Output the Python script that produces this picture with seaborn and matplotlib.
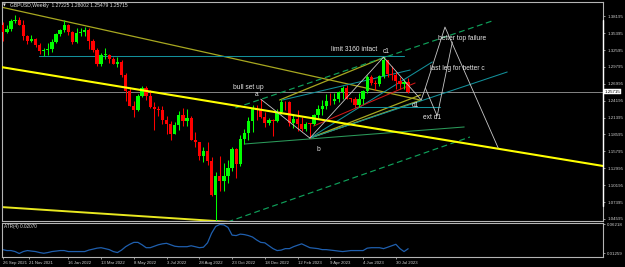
import matplotlib
matplotlib.use("Agg")
import matplotlib.pyplot as plt
import matplotlib.transforms as mtransforms
import numpy as np
import pandas as pd
import seaborn as sns

# ---------------- data (GBPUSD weekly, 26 Sep 2021 .. 20 Aug 2023) ----------------
opens = [1.3680, 1.3557, 1.3615, 1.3745, 1.3750, 1.3680, 1.3497, 1.3415, 1.3443, 1.3337,
         1.3235, 1.3265, 1.3270, 1.3400, 1.3533, 1.3590, 1.3675, 1.3555, 1.3395, 1.3535,
         1.3560, 1.3590, 1.3410, 1.3255, 1.3035, 1.3180, 1.3185, 1.3115, 1.3030, 1.3060,
         1.2840, 1.2575, 1.2335, 1.2260, 1.2490, 1.2625, 1.2490, 1.2310, 1.2280, 1.2265,
         1.2095, 1.2040, 1.1870, 1.2010, 1.2175, 1.2075, 1.2140, 1.1765, 1.1730, 1.1510,
         1.1585, 1.1415, 1.0855, 1.1165, 1.1090, 1.1175, 1.1300, 1.1615, 1.1375, 1.1790,
         1.1890, 1.2090, 1.2285, 1.2260, 1.2145, 1.2050, 1.2095, 1.2090, 1.2225, 1.2395,
         1.2390, 1.2050, 1.2120, 1.2030, 1.1945, 1.2040, 1.2030, 1.2175, 1.2290, 1.2335,
         1.2415, 1.2410, 1.2440, 1.2565, 1.2635, 1.2450, 1.2445, 1.2345, 1.2450, 1.2575,
         1.2820, 1.2720, 1.2695, 1.2835, 1.3095, 1.2855, 1.2850, 1.2745, 1.2695, 1.27225]
highs = [1.3720, 1.3675, 1.3770, 1.3835, 1.3810, 1.3750, 1.3510, 1.3515, 1.3460, 1.3370,
         1.3290, 1.3375, 1.3440, 1.3545, 1.3600, 1.3750, 1.3690, 1.3570, 1.3630, 1.3630,
         1.3645, 1.3630, 1.3440, 1.3300, 1.3215, 1.3300, 1.3200, 1.3150, 1.3150, 1.3090,
         1.2880, 1.2640, 1.2410, 1.2525, 1.2665, 1.2665, 1.2600, 1.2405, 1.2325, 1.2330,
         1.2165, 1.2085, 1.2065, 1.2245, 1.2295, 1.2275, 1.2170, 1.1900, 1.1740, 1.1650,
         1.1740, 1.1480, 1.1235, 1.1495, 1.1380, 1.1440, 1.1645, 1.1640, 1.1855, 1.1955,
         1.2150, 1.2345, 1.2345, 1.2445, 1.2240, 1.2125, 1.2110, 1.2290, 1.2445, 1.2420,
         1.2420, 1.2195, 1.2270, 1.2150, 1.2070, 1.2050, 1.2205, 1.2345, 1.2425, 1.2525,
         1.2545, 1.2545, 1.2585, 1.2670, 1.2680, 1.2470, 1.2475, 1.2545, 1.2600, 1.2850,
         1.2850, 1.2760, 1.2850, 1.3142, 1.3100, 1.3000, 1.2895, 1.2820, 1.2765, 1.28002]
lows = [1.3412, 1.3545, 1.3570, 1.3700, 1.3670, 1.3425, 1.3355, 1.3390, 1.3310, 1.3195,
        1.3160, 1.3180, 1.3225, 1.3370, 1.3490, 1.3560, 1.3515, 1.3360, 1.3380, 1.3490,
        1.3490, 1.3270, 1.3230, 1.3000, 1.2995, 1.3110, 1.3050, 1.3030, 1.2980, 1.2820,
        1.2410, 1.2325, 1.2155, 1.2250, 1.2475, 1.2430, 1.2300, 1.1934, 1.2160, 1.2035,
        1.1875, 1.1760, 1.1860, 1.1935, 1.2000, 1.2005, 1.1760, 1.1650, 1.1445, 1.1405,
        1.1350, 1.0840, 1.0350, 1.0925, 1.0925, 1.1060, 1.1260, 1.1145, 1.1335, 1.1710,
        1.1765, 1.1900, 1.2105, 1.2130, 1.1990, 1.2015, 1.1840, 1.2065, 1.2200, 1.2260,
        1.2005, 1.1960, 1.1915, 1.1925, 1.1920, 1.1800, 1.2010, 1.2125, 1.2190, 1.2275,
        1.2345, 1.2365, 1.2390, 1.2440, 1.2440, 1.2390, 1.2310, 1.2310, 1.2370, 1.2545,
        1.2685, 1.2590, 1.2670, 1.2795, 1.2810, 1.2770, 1.2620, 1.2615, 1.2615, 1.25479]
closes = [1.3557, 1.3615, 1.3745, 1.3750, 1.3680, 1.3497, 1.3415, 1.3443, 1.3337, 1.3235,
          1.3265, 1.3270, 1.3400, 1.3533, 1.3590, 1.3675, 1.3555, 1.3395, 1.3535, 1.3560,
          1.3590, 1.3410, 1.3255, 1.3035, 1.3180, 1.3185, 1.3115, 1.3030, 1.3060, 1.2840,
          1.2575, 1.2335, 1.2260, 1.2490, 1.2625, 1.2490, 1.2310, 1.2280, 1.2265, 1.2095,
          1.2040, 1.1870, 1.2010, 1.2175, 1.2075, 1.2140, 1.1765, 1.1730, 1.1510, 1.1585,
          1.1415, 1.0855, 1.1165, 1.1090, 1.1175, 1.1300, 1.1615, 1.1375, 1.1790, 1.1890,
          1.2090, 1.2285, 1.2260, 1.2145, 1.2050, 1.2095, 1.2090, 1.2225, 1.2395, 1.2390,
          1.2050, 1.2120, 1.2030, 1.1945, 1.2040, 1.2030, 1.2175, 1.2290, 1.2335, 1.2415,
          1.2410, 1.2440, 1.2565, 1.2635, 1.2450, 1.2445, 1.2345, 1.2450, 1.2575, 1.2820,
          1.2720, 1.2695, 1.2835, 1.3095, 1.2855, 1.2850, 1.2745, 1.2695, 1.2735, 1.25715]
atr4 = [0.0192, 0.0176, 0.0176, 0.0159, 0.0126, 0.0159, 0.0176, 0.0167, 0.0159, 0.0142,
        0.0130, 0.0142, 0.0159, 0.0167, 0.0176, 0.0176, 0.0159, 0.0159, 0.0159, 0.0159,
        0.0159, 0.0184, 0.0200, 0.0217, 0.0225, 0.0209, 0.0192, 0.0159, 0.0142, 0.0184,
        0.0242, 0.0283, 0.0316, 0.0316, 0.0275, 0.0225, 0.0225, 0.0250, 0.0275, 0.0291,
        0.0300, 0.0275, 0.0250, 0.0242, 0.0242, 0.0242, 0.0258, 0.0242, 0.0225, 0.0233,
        0.0308, 0.0473, 0.0589, 0.0622, 0.0614, 0.0572, 0.0440, 0.0432, 0.0457, 0.0449,
        0.0432, 0.0407, 0.0357, 0.0316, 0.0308, 0.0258, 0.0209, 0.0176, 0.0184, 0.0209,
        0.0209, 0.0242, 0.0267, 0.0291, 0.0258, 0.0225, 0.0217, 0.0209, 0.0192, 0.0192,
        0.0184, 0.0176, 0.0167, 0.0159, 0.0167, 0.0176, 0.0176, 0.0176, 0.0176, 0.0217,
        0.0225, 0.0225, 0.0225, 0.0209, 0.0233, 0.0258, 0.0283, 0.0209, 0.0159, 0.0207]

date_labels = ["26 Sep 2021", "21 Nov 2021", "16 Jan 2022", "13 Mar 2022", "8 May 2022",
               "3 Jul 2022", "28 Aug 2022", "23 Oct 2022", "18 Dec 2022", "12 Feb 2023",
               "9 Apr 2023", "4 Jun 2023", "30 Jul 2023"]
date_label_bars = [0, 6.4, 16, 24, 32, 40, 48, 56, 64, 72, 80, 88, 96]
price_ticks = [1.04595, 1.07395, 1.10195, 1.12995, 1.15795, 1.18595, 1.21395,
               1.24195, 1.26995, 1.29795, 1.32595, 1.35395, 1.38195]
atr_ticks = [0.01259, 0.06218]
current_price = 1.25715
header = "GBPUSD,Weekly  1.27225 1.28002 1.25479 1.25715"
atr_title = "ATR(4) 0.02070"

# trend-line objects: (bar0, price0, bar1, price1)
yellow_main = [(-1, 1.29836, 148, 1.13222)]
yellow_low = [(-1, 1.0660, 60, 1.0390)]
olive_lines = [(-1, 1.3980, 102, 1.2430), (67.6, 1.2431, 93.4, 1.3144),
               (75, 1.1800, 102, 1.2514), (75, 1.1800, 102.2, 1.2431)]
teal_lines = [(8.8, 1.3160, 98.0, 1.3160), (86.1, 1.2315, 106.8, 1.2315),
              (68.3, 1.2431, 99.5, 1.2928), (75, 1.1800, 123.2, 1.2895),
              (75, 1.1800, 104.9, 1.3061)]
green_dashed = [(56.8, 1.2299, 119.5, 1.3740), (54.9, 1.0410, 114.1, 1.1818)]
green_solid = [(59.0, 1.1702, 112.7, 1.1984)]
red_lines = [(75.9, 1.2000, 100.7, 1.2713)]
wave_bars = [63, 75, 93, 102.2, 103.2, 108.0, 121.0]
wave_prices = [1.2445, 1.1800, 1.3142, 1.2431, 1.2630, 1.3640, 1.1636]
alt_bars = [103.2, 106.1, 109.8]
alt_prices = [1.2630, 1.2166, 1.3392]
notes = [("bull set up", 56.3, 1.2646), ("a", 61.6, 1.2514), ("b", 76.6, 1.1619),
         ("c1", 92.8, 1.3243), ("limit 3160 intact", 80.2, 1.3276), ("d1", 100.0, 1.2348),
         ("ext d1", 102.7, 1.2133), ("last leg for better c", 104.4, 1.2961),
         ("better top failure", 106.3, 1.3458)]

# ---------------- styling ----------------
sns.set_theme(style="dark", rc={"axes.facecolor": "black", "figure.facecolor": "black",
                                "axes.edgecolor": "#bfbfbf", "axes.grid": False})
plt.rcParams["font.family"] = ["Liberation Sans", "DejaVu Sans"]

W, H = 625, 267
fig = plt.figure(figsize=(W / 100, H / 100), dpi=100)
ax = fig.add_axes([2 / W, 1 - 221 / H, 601 / W, 219 / H])
ax2 = fig.add_axes([2 / W, 1 - 257 / H, 601 / W, 34 / H])
for a in (ax, ax2):
    a.set_facecolor("black")
    for s in a.spines.values():
        s.set_color("#b4b4b4")
        s.set_linewidth(0.8)

df = pd.DataFrame({"bar": np.arange(len(closes)), "open": opens, "high": highs,
                   "low": lows, "close": closes, "atr": atr4})
up = df["close"] >= df["open"]
colors = np.where(up, "#00ff00", "#ff0000")

x_max = 146.6
ax.set_xlim(-0.2, x_max)
ax.set_ylim(1.0426, 1.4055)
ax2.set_xlim(-0.2, x_max)
ax2.set_ylim(0.0066, 0.0647)

def draw(lines, **kw):
    for b0, p0, b1, p1 in lines:
        ax.plot([b0, b1], [p0, p1], **kw)

ax.axhline(current_price, color="#9a9a9a", lw=0.6, zorder=1)
draw(olive_lines, color="#a8a820", lw=0.9, zorder=2)
draw(teal_lines, color="#13909a", lw=0.75, zorder=2)
draw(green_dashed, color="#0fa05a", lw=0.85, ls=(0, (5, 3)), zorder=2)
draw(green_solid, color="#2b9a5a", lw=0.75, zorder=2)
draw(red_lines, color="#d01818", lw=0.75, zorder=2)
draw(yellow_low, color="#e8e820", lw=1.4, zorder=2)

# candles
ax.vlines(df["bar"], df["low"], df["high"], colors=colors, lw=0.75, zorder=3)
body = (df["close"] - df["open"]).abs().clip(lower=0.0012)
ax.bar(df["bar"], body, bottom=df[["open", "close"]].min(axis=1), width=0.8,
       color=colors, linewidth=0, zorder=4)

draw(yellow_main, color="#ffff00", lw=1.5, zorder=5)
ax.plot(wave_bars, wave_prices, color="#c8c8c8", lw=0.6, zorder=6)
ax.plot(alt_bars, alt_prices, color="#c8c8c8", lw=0.6, zorder=6)

for txt, bx, py in notes:
    ax.text(bx, py, txt, color="#e6e6e6", fontsize=4.8, ha="left", va="center", zorder=7)

ax.text(0.0135, 0.982, header, transform=ax.transAxes, color="#e0e0e0", fontsize=3.6,
        ha="left", va="center")
ax.text(0.002, 0.982, "\u25bc", transform=ax.transAxes, color="#e0e0e0", fontsize=2.6,
        ha="left", va="center", family="DejaVu Sans")

# price scale
ax.yaxis.tick_right()
ax.set_yticks(price_ticks)
ax.set_yticklabels([f"{v:.5f}" for v in price_ticks])
ax.tick_params(axis="y", colors="#d0d0d0", labelsize=3.2, length=1.5, width=0.5, pad=1.5,
               right=True, left=False)
ax.set_xticks([])
trans = mtransforms.blended_transform_factory(ax.transAxes, ax.transData)
ax.text(1.003, current_price, f"{current_price:.5f}", transform=trans, fontsize=3.2,
        color="black", ha="left", va="center",
        bbox=dict(boxstyle="square,pad=0.15", fc="white", ec="white", lw=0.3))
ax.plot([1, 1], [0.07, 0.92], transform=ax.transAxes, color="white", lw=1.0,
        clip_on=False, zorder=8)

# ATR panel
sns.lineplot(data=df, x="bar", y="atr", ax=ax2, color="#1f5fae", lw=0.9)
ax2.set_xlabel("")
ax2.set_ylabel("")
ax2.yaxis.tick_right()
ax2.set_yticks(atr_ticks)
ax2.set_yticklabels([f"{v:.5f}" for v in atr_ticks])
ax2.tick_params(axis="y", colors="#d0d0d0", labelsize=3.2, length=1.5, width=0.5, pad=1.5,
                right=True, left=False)
ax2.set_xticks(date_label_bars)
ax2.set_xticklabels(date_labels, ha="left")
ax2.tick_params(axis="x", colors="#d0d0d0", labelsize=3.1, length=1.5, width=0.5, pad=1.5,
                bottom=True)
ax2.text(0.003, 0.9, atr_title, transform=ax2.transAxes, color="#d8d8d8", fontsize=3.4,
         ha="left", va="center")

fig.savefig("out.png", dpi=100, facecolor="black")
